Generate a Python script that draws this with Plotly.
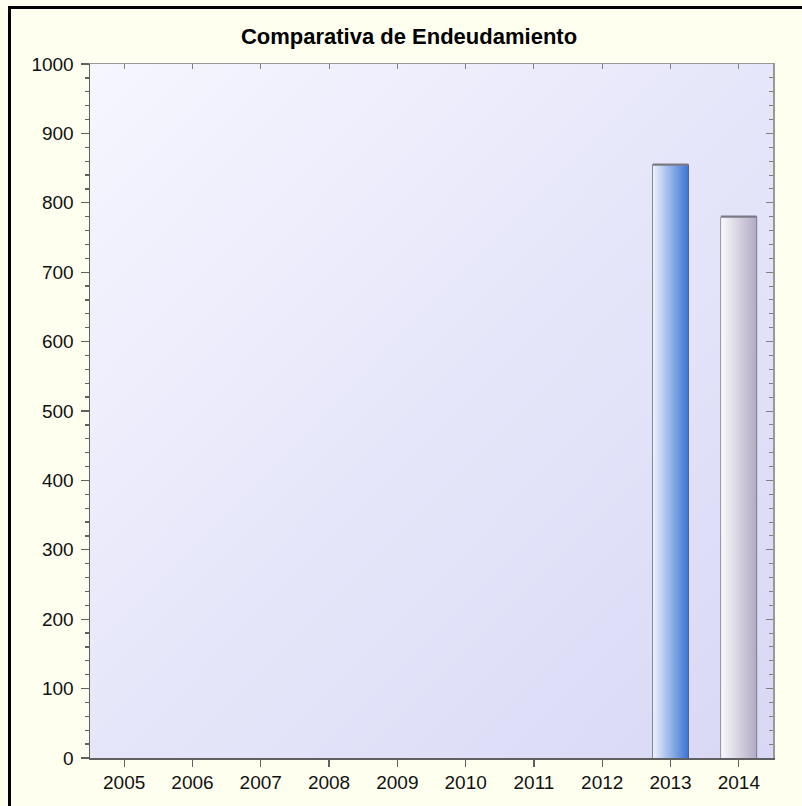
import plotly.graph_objects as go

# ---- data ----
years = ["2005", "2006", "2007", "2008", "2009", "2010", "2011", "2012", "2013", "2014"]
debt = [None, None, None, None, None, None, None, None, 855, 780]
bar_gradients = {
    "2013": ["#EEF3FC", "#3A74D4"],
    "2014": ["#FAF9FC", "#B2AAC4"],
}
title_text = "Comparativa de Endeudamiento"

FONT = "Liberation Sans, Arial, sans-serif"
BAR_W = 0.52

W, H = 802, 806
L, R, T, B = 90, 29, 64, 48
PW, PH = W - L - R, H - T - B

fig = go.Figure()

# background gradient of the plot area (decorative, hidden base axes)
fig.add_trace(go.Heatmap(
    x=[0, 1], y=[0, 1], z=[[1, 2], [0, 1]],
    zsmooth="best", showscale=False, hoverinfo="skip",
    colorscale=[[0, "#F6F6FF"], [0.5, "#E6E6FA"], [1, "#D8D8F6"]],
    xaxis="x", yaxis="y",
))

# gradient fills of the bars
for i, (yr, v) in enumerate(zip(years, debt)):
    if v is None:
        continue
    c0, c1 = bar_gradients[yr]
    fig.add_trace(go.Scatter(
        x=[i - BAR_W / 2, i + BAR_W / 2, i + BAR_W / 2, i - BAR_W / 2, i - BAR_W / 2],
        y=[0, 0, v, v, 0],
        fill="toself", mode="lines", line=dict(width=0),
        fillgradient=dict(type="horizontal", colorscale=[[0, c0], [1, c1]]),
        hoverinfo="skip", showlegend=False,
        xaxis="x2", yaxis="y2",
    ))
    # top edge highlight
    fig.add_trace(go.Scatter(
        x=[i - BAR_W / 2, i + BAR_W / 2], y=[v, v], mode="lines",
        line=dict(color="#7A7A86", width=2.2),
        hoverinfo="skip", showlegend=False, xaxis="x2", yaxis="y2",
    ))

# the bars themselves (outline)
fig.add_trace(go.Bar(
    x=list(range(len(years))), y=debt, width=BAR_W,
    marker=dict(color="rgba(0,0,0,0)", line=dict(color="#3C3C46", width=1)),
    showlegend=False, xaxis="x2", yaxis="y2",
))

# helper trace for mirrored top/right axes
fig.add_trace(go.Scatter(x=[], y=[], xaxis="x3", yaxis="y3", showlegend=False))

tickfont = dict(family=FONT, size=19, color="#111111")

fig.update_layout(
    width=W, height=H,
    margin=dict(l=L, r=R, t=T, b=B),
    paper_bgcolor="#FFFFF0",
    plot_bgcolor="#E7E7FA",
    showlegend=False,
    title=dict(text="<b>" + title_text + "</b>", x=409 / W, xanchor="center",
               y=1 - 36 / H, yanchor="middle",
               font=dict(family=FONT, size=22, color="#000000")),
    xaxis=dict(range=[0, 1], visible=False, fixedrange=True),
    yaxis=dict(range=[0, 1], visible=False, fixedrange=True),
    xaxis2=dict(overlaying="x", anchor="y2", range=[-0.5, 9.5],
                tickvals=list(range(len(years))), ticktext=years,
                ticks="outside", ticklen=7, tickcolor="#606060", tickwidth=1.3,
                showline=True, linecolor="#606060", linewidth=1.5,
                showgrid=False, zeroline=False, tickfont=tickfont),
    yaxis2=dict(overlaying="y", anchor="x2", range=[0, 1000], dtick=100,
                tick0=0, ticks="outside", ticklen=8, tickcolor="#606060", tickwidth=1.3,
                minor=dict(dtick=20, ticks="outside", ticklen=4, tickcolor="#606060"),
                showline=True, linecolor="#606060", linewidth=1.5,
                showgrid=False, zeroline=False, tickfont=tickfont,
                ticklabelstandoff=3),
    xaxis3=dict(overlaying="x", anchor="y3", side="top", range=[-0.5, 9.5],
                tickvals=list(range(len(years))), ticks="inside", ticklen=5,
                tickcolor="#808080", showticklabels=False,
                showline=True, linecolor="#999999", linewidth=1.5,
                showgrid=False, zeroline=False),
    yaxis3=dict(overlaying="y", anchor="x3", side="right", range=[0, 1000],
                dtick=100, ticks="inside", ticklen=7, tickcolor="#808080",
                minor=dict(dtick=20, ticks="inside", ticklen=4, tickcolor="#808080"),
                showticklabels=False, showline=True, linecolor="#999999",
                linewidth=1.5, showgrid=False, zeroline=False),
    shapes=[
        dict(type="line", xref="paper", yref="paper",
             x0=(9.5 - L) / PW, x1=(9.5 - L) / PW,
             y0=(H - B - H - 5) / PH, y1=(H - B - 6) / PH,
             line=dict(color="#000000", width=3)),
        dict(type="line", xref="paper", yref="paper",
             x0=(8 - L) / PW, x1=(W + 5 - L) / PW,
             y0=(H - B - 7.5) / PH, y1=(H - B - 7.5) / PH,
             line=dict(color="#000000", width=3)),
    ],
)

fig.write_html(
    "out.html",
    config={"displayModeBar": False, "staticPlot": True},
    post_script="document.body.style.margin='0';document.body.style.overflow='hidden';"
                "document.documentElement.style.overflow='hidden';",
)
